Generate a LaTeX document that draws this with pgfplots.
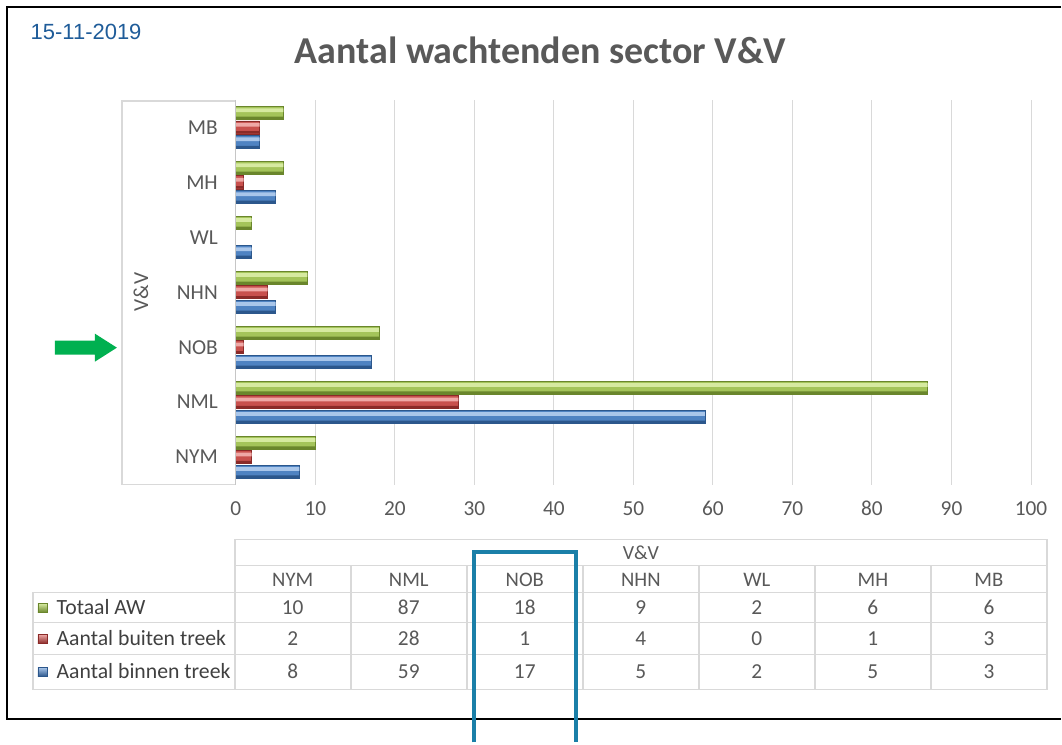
\documentclass[border=0pt]{standalone}
\usepackage{fontspec}
\setmainfont{Carlito}
\newfontfamily\arialfont{Liberation Sans}
\usepackage{pgfplots}
\usepackage{pgfplotstable}
\pgfplotsset{compat=1.18}

\definecolor{txt}{HTML}{595959}
\definecolor{txtdark}{HTML}{404040}
\definecolor{gridc}{HTML}{D9D9D9}
\definecolor{gL}{HTML}{D6EAA0}
\definecolor{gM}{HTML}{A4C45A}
\definecolor{gD}{HTML}{6A862C}
\definecolor{rL}{HTML}{EFA8A6}
\definecolor{rM}{HTML}{C8504D}
\definecolor{rD}{HTML}{8A2A28}
\definecolor{bL}{HTML}{A9C6EA}
\definecolor{bM}{HTML}{4F83C2}
\definecolor{bD}{HTML}{2C578C}
\definecolor{arrowg}{HTML}{00B050}
\definecolor{boxblue}{HTML}{1A7FA8}
\definecolor{datec}{HTML}{1F5C99}

% bottom to top: NYM ... MB
\pgfplotstableread{
idx cat binnen buiten totaal
0 NYM 8 2 10
1 NML 59 28 87
2 NOB 17 1 18
3 NHN 5 4 9
4 WL 2 0 2
5 MH 5 1 6
6 MB 3 3 6
}\wachtdata

\tikzset{
  binnenbar/.style={draw=bD, line width=0.5pt, top color=bL, middle color=bM, bottom color=bD},
  buitenbar/.style={draw=rD, line width=0.5pt, top color=rL, middle color=rM, bottom color=rD},
  totaalbar/.style={draw=gD, line width=0.5pt, top color=gL, middle color=gM, bottom color=gD},
}
% a bar in three layers: body, light stripe above the middle, dark stripe at the bottom
\newcommand{\layeredbars}[5]{% column, shift, light, mid, dark
  \addplot[fill=#4, draw=#5, line width=0.5pt, bar width=9.8pt, bar shift=#2] table[x=#1, y=idx] {\wachtdata};
  \addplot[fill=#3, draw=none, bar width=2.8pt, bar shift=#2+2pt] table[x=#1, y=idx] {\wachtdata};
  \addplot[fill=#5, draw=none, bar width=1.8pt, bar shift=#2-3.8pt] table[x=#1, y=idx] {\wachtdata};
}

\begin{document}
\begin{tikzpicture}
% picture coordinates in pixels of the reference, y downwards
\begin{scope}[x=0.75pt,y=-0.75pt]
  \useasboundingbox (0,0) rectangle (1062,743);
  \fill[white] (0,0) rectangle (1062,743);
\end{scope}

\begin{axis}[
    at={(177pt,-363.75pt)}, anchor=south west,
    scale only axis,
    width=597pt, height=288.75pt,
    xbar,
    xmin=0, xmax=100, ymin=-0.5, ymax=6.5,
    xtick={0,10,...,100},
    ytick={0,...,6},
    yticklabels from table={\wachtdata}{cat},
    xmajorgrids,
    grid style={draw=gridc, line width=0.75pt},
    axis line style={draw=none},
    major tick length=0pt,
    tick label style={font=\fontsize{16}{18}\selectfont, text=txt},
    /pgf/number format/assume math mode=true,
    xticklabel style={yshift=-9pt},
    yticklabel style={xshift=-10pt},
]
  \layeredbars{binnen}{-10.9pt}{bL}{bM}{bD}
  \layeredbars{buiten}{0pt}{rL}{rM}{rD}
  \layeredbars{totaal}{10.9pt}{gL}{gM}{gD}
\end{axis}

\begin{scope}[x=0.75pt,y=-0.75pt]
  % outer frame
  \draw[black, line width=1.5pt] (1062,7) -- (7,7) -- (7,720) -- (1062,720);
  % category axis and bracket
  \draw[gray!45, line width=0.9pt] (235.5,100) -- (235.5,485);
  \draw[gridc, line width=1pt] (235,101) -- (122,101) -- (122,485) -- (235,485);
  \node[rotate=90, text=txt, font=\fontsize{16}{18}\selectfont] at (141,292) {V\&V};
  % date and title
  \node[anchor=west, text=datec, font=\arialfont\fontsize{16.5}{18}\selectfont] at (26,32) {15-11-2019};
  \node[text=txt, font=\bfseries\fontsize{28.5}{32}\selectfont] at (541,50) {Aantal wachtenden sector V\&V};
  % green arrow
  \fill[arrowg] (55,341) -- (95,341) -- (95,334) -- (117,348) -- (95,362) -- (95,355) -- (55,355) -- cycle;

  % data table
  \begin{scope}[gridc, line width=1.1pt]
    \draw (235,540) rectangle (1048,690);
    \draw (235,566) -- (1048,566);
    \draw (33,593) rectangle (235,690);
    \foreach \yy in {593,623,655} \draw (33,\yy) -- (1048,\yy);
    \foreach \k in {1,...,6} \draw ({235+116.14*\k},566) -- ({235+116.14*\k},690);
  \end{scope}
  \node[text=txt, font=\fontsize{15}{17}\selectfont] at (641.5,553) {V\&V};
  \foreach \i in {0,...,6} {
    \pgfplotstablegetelem{\i}{cat}\of\wachtdata
    \node[text=txt, font=\fontsize{15.5}{17}\selectfont] at ({293+116.14*\i},580) {\pgfplotsretval};
    \pgfplotstablegetelem{\i}{totaal}\of\wachtdata
    \node[text=txt, font=\fontsize{16}{17}\selectfont] at ({293+116.14*\i},608) {\pgfplotsretval};
    \pgfplotstablegetelem{\i}{buiten}\of\wachtdata
    \node[text=txt, font=\fontsize{16}{17}\selectfont] at ({293+116.14*\i},639) {\pgfplotsretval};
    \pgfplotstablegetelem{\i}{binnen}\of\wachtdata
    \node[text=txt, font=\fontsize{16}{17}\selectfont] at ({293+116.14*\i},672) {\pgfplotsretval};
  }
  % row labels with legend keys
  \shade[totaalbar] (38,604) rectangle (47,613);
  \shade[buitenbar] (38,635) rectangle (47,644);
  \shade[binnenbar] (38,668) rectangle (47,677);
  \draw[gD, line width=0.5pt] (38,604) rectangle (47,613);
  \draw[rD, line width=0.5pt] (38,635) rectangle (47,644);
  \draw[bD, line width=0.5pt] (38,668) rectangle (47,677);
  \node[anchor=west, text=txtdark, font=\fontsize{16.3}{17}\selectfont] at (52,608) {Totaal AW};
  \node[anchor=west, text=txtdark, font=\fontsize{16.3}{17}\selectfont] at (52,639) {Aantal buiten treek};
  \node[anchor=west, text=txtdark, font=\fontsize{16.3}{17}\selectfont] at (52,672) {Aantal binnen treek};

  % highlight box round the NOB column, open below the picture edge
  \draw[boxblue, line width=3pt] (474,743) -- (474,553) -- (577,553) -- (577,743);
\end{scope}
\end{tikzpicture}
\end{document}
